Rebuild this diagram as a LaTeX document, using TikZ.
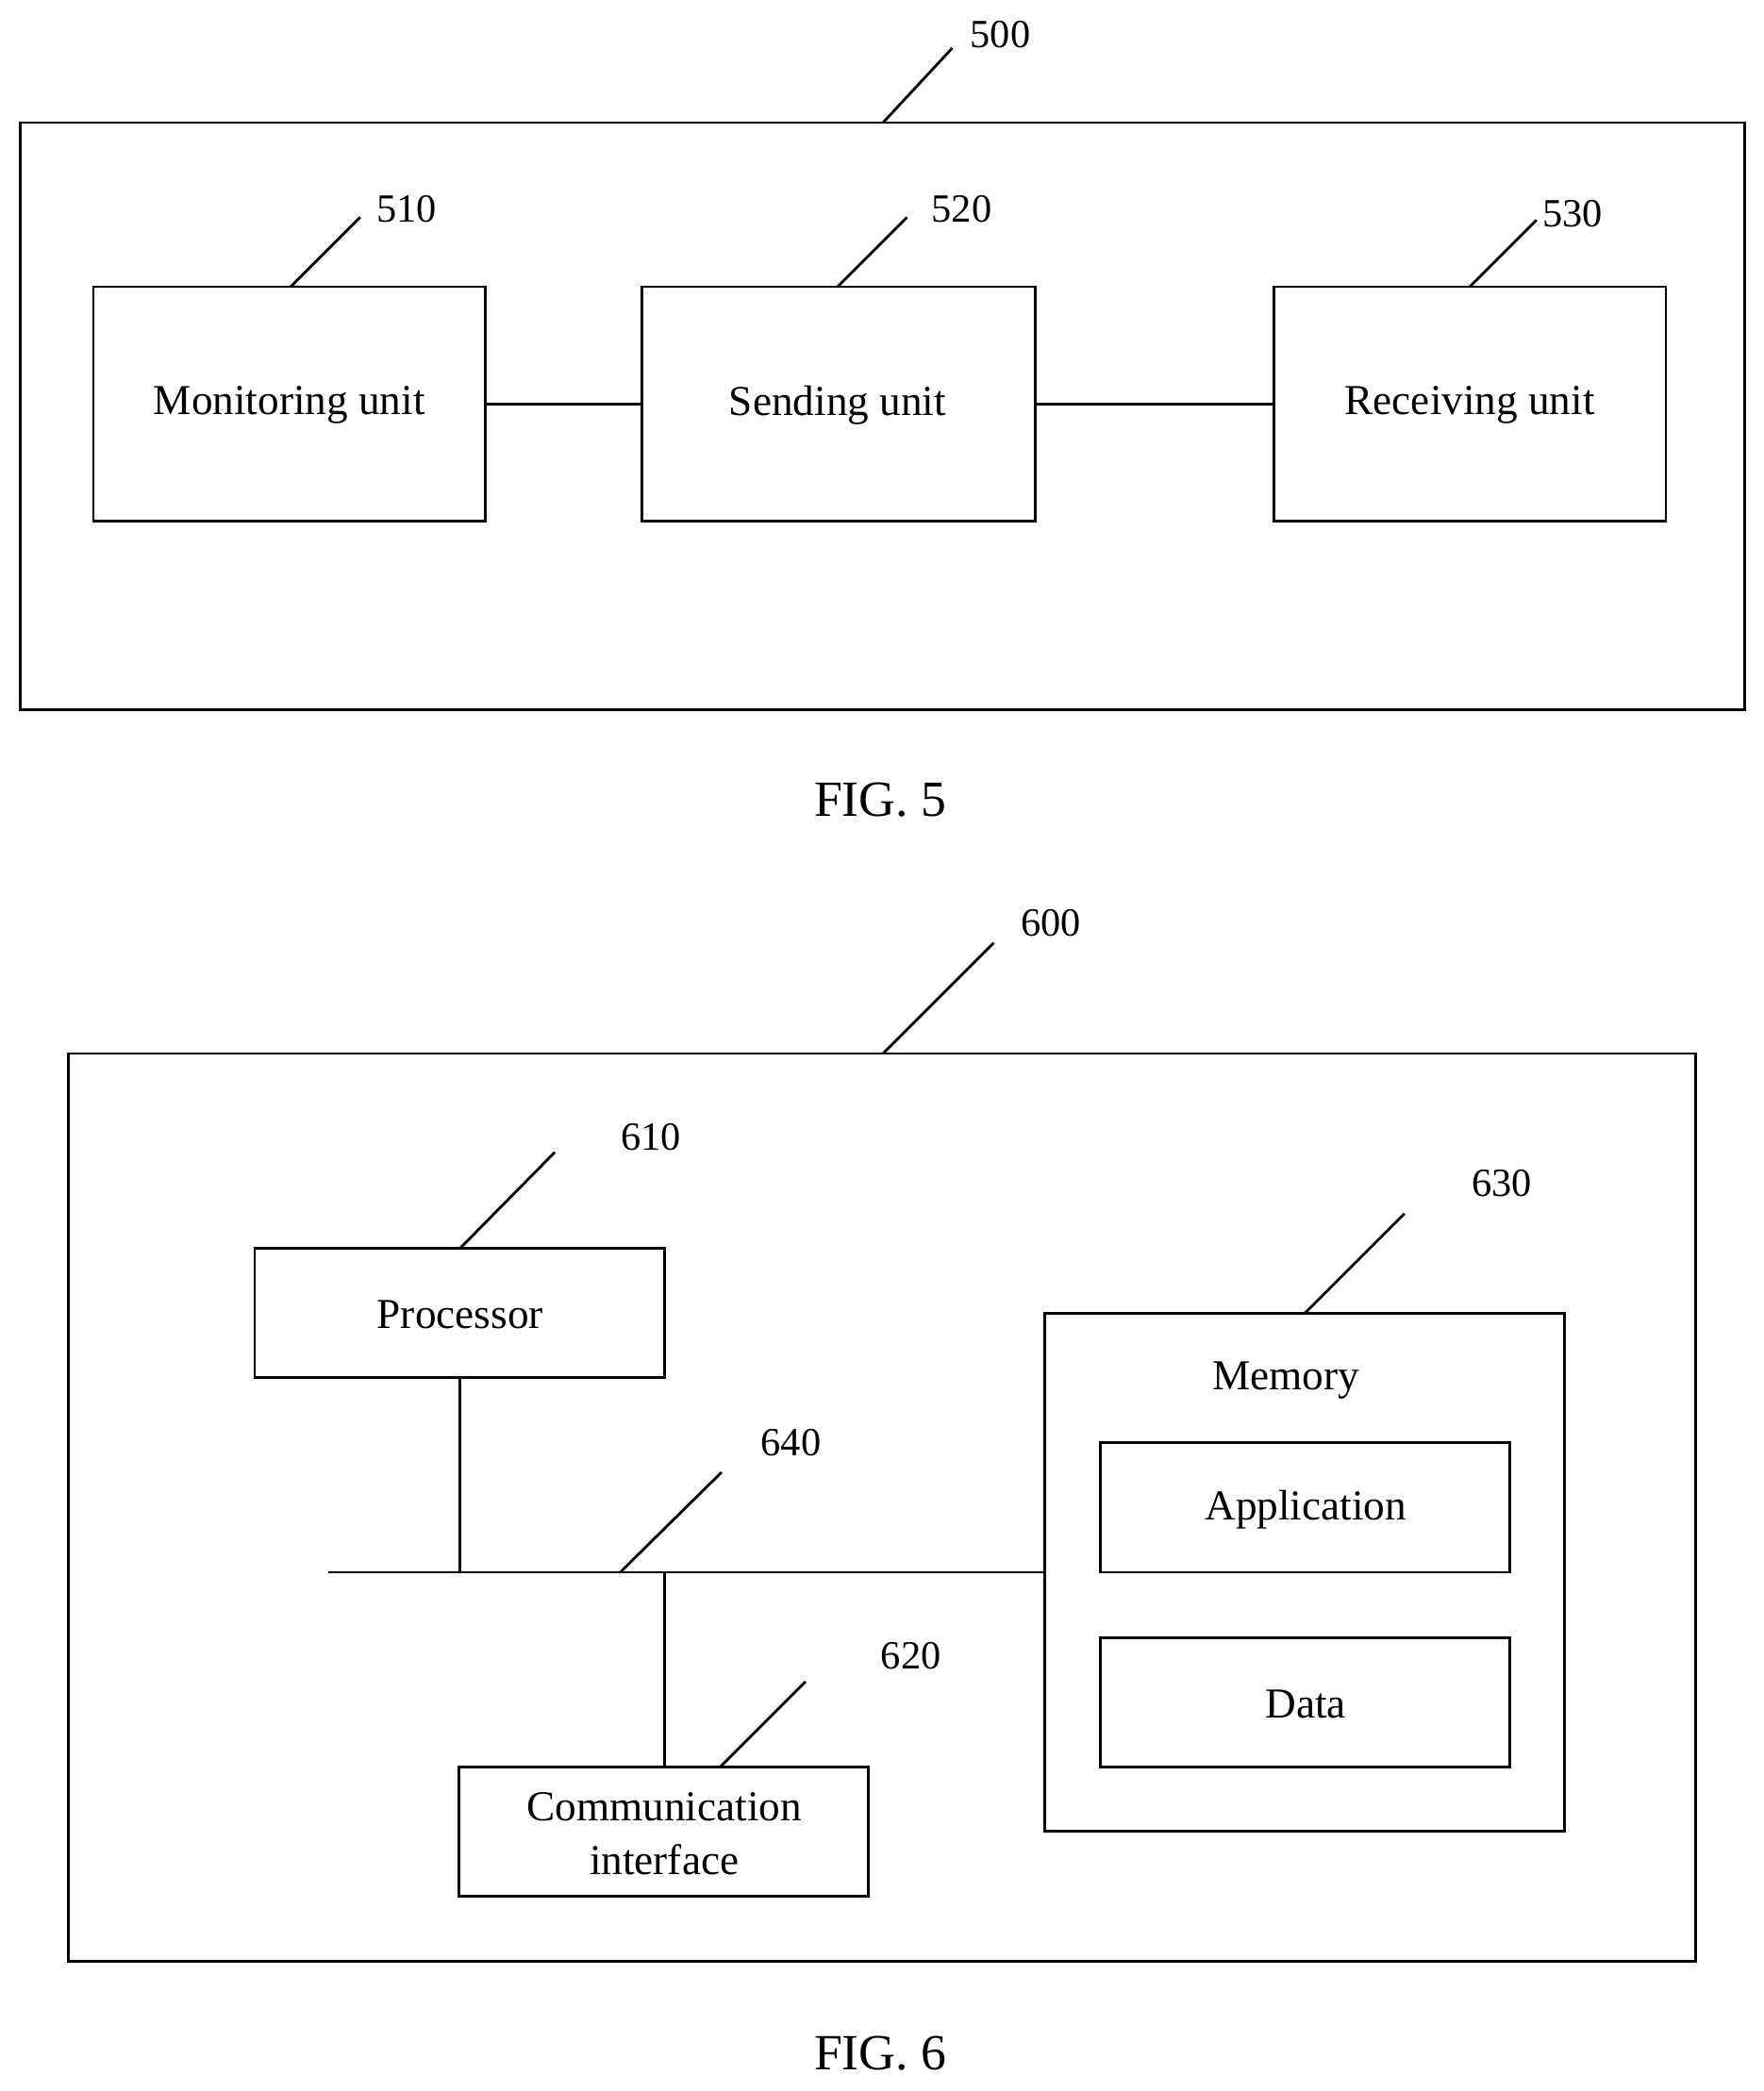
\documentclass[tikz,border=0pt]{standalone}
\usepackage{fontspec}
\setmainfont{Liberation Serif}
\begin{document}
\begin{tikzpicture}[x=1pt,y=-1pt,line width=2pt,
  lbl/.style={font=\fontsize{32}{36}\selectfont,align=center},
  fig/.style={font=\fontsize{38}{42}\selectfont},
  num/.style={font=\fontsize{30}{32}\selectfont}]
\useasboundingbox (0,0) rectangle (1322,1568);
% FIG 5
\draw (15,92) rectangle (1308,532);
\draw (662,92)--(714,36); \node[num] (n500) at (750,26) {500};
\draw (70,215) rectangle (364,391); \node[lbl] (mon) at (217,304) {Monitoring unit};
\draw (481,215) rectangle (776,391); \node[lbl] (snd) at (628,304) {Sending unit};
\draw (955,215) rectangle (1249,391); \node[lbl] (rcv) at (1102,304) {Receiving unit};
\draw (364,303)--(481,303); \draw (776,303)--(955,303);
\draw (218,215)--(270,163); \node[num] (n510) at (305,157) {510};
\draw (628,215)--(680,163); \node[num] (n520) at (721,157) {520};
\draw (1102,215)--(1152,165); \node[num] (n530) at (1179,160) {530};
\node[fig] (f5) at (660,600) {FIG. 5};
% FIG 6
\draw (51,790) rectangle (1271,1471);
\draw (662,790)--(745,707); \node[num] (n600) at (788,692) {600};
\draw (191,936) rectangle (498,1033); \node[lbl] (proc) at (345,986) {Processor};
\draw (345,936)--(416,864); \node[num] (n610) at (488,853) {610};
\draw (783,985) rectangle (1173,1373); \node[lbl] (mem) at (964,1035) {Memory};
\draw (978,985)--(1053,910); \node[num] (n630) at (1126,887) {630};
\draw (825,1082) rectangle (1132,1179); \node[lbl] (app) at (979,1132) {Application};
\draw (825,1228) rectangle (1132,1325); \node[lbl] (dat) at (979,1278) {Data};
\draw (246,1179)--(783,1179);
\draw (345,1033)--(345,1179);
\draw (498,1179)--(498,1325);
\draw (465,1179)--(541,1104); \node[num] (n640) at (593,1082) {640};
\draw (344,1325) rectangle (651,1422);
\node[lbl,font=\fontsize{32}{40}\selectfont] (comm) at (498,1375) {Communication\\interface};
\draw (540,1325)--(604,1261); \node[num] (n620) at (683,1242) {620};
\node[fig] (f6) at (660,1540) {FIG. 6};
\end{tikzpicture}
\end{document}
